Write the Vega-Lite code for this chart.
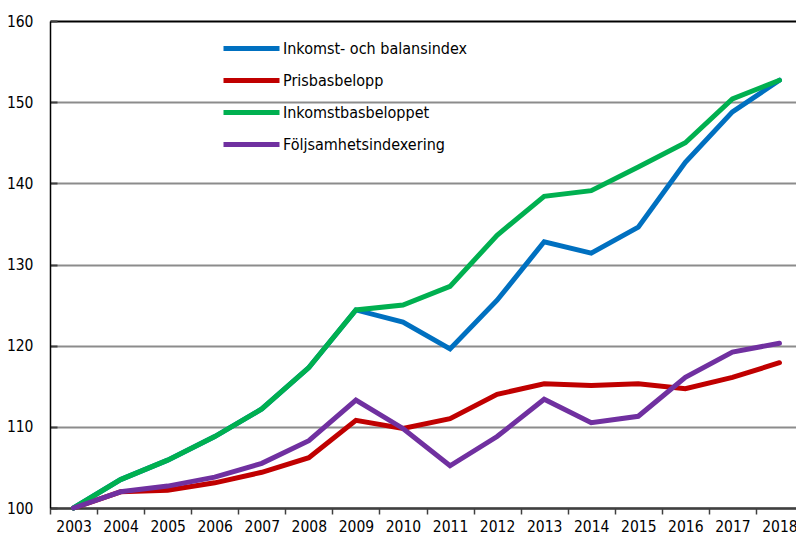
{
  "$schema": "https://vega.github.io/schema/vega-lite/v6.json",
  "autosize": "none",
  "padding": {"left": 50, "top": 21, "right": 0, "bottom": 31},
  "width": 746,
  "height": 487,
  "background": "white",
  "config": {
    "font": "Liberation Sans Narrow, Arial Narrow, DejaVu Sans Condensed, sans-serif",
    "view": {"stroke": null}
  },
  "data": {
    "values": [
      {"year": "2003", "series": "Inkomst- och balansindex", "value": 100},
      {"year": "2004", "series": "Inkomst- och balansindex", "value": 103.5},
      {"year": "2005", "series": "Inkomst- och balansindex", "value": 105.9},
      {"year": "2006", "series": "Inkomst- och balansindex", "value": 108.8},
      {"year": "2007", "series": "Inkomst- och balansindex", "value": 112.2},
      {"year": "2008", "series": "Inkomst- och balansindex", "value": 117.3},
      {"year": "2009", "series": "Inkomst- och balansindex", "value": 124.4},
      {"year": "2010", "series": "Inkomst- och balansindex", "value": 122.9},
      {"year": "2011", "series": "Inkomst- och balansindex", "value": 119.6},
      {"year": "2012", "series": "Inkomst- och balansindex", "value": 125.6},
      {"year": "2013", "series": "Inkomst- och balansindex", "value": 132.8},
      {"year": "2014", "series": "Inkomst- och balansindex", "value": 131.4},
      {"year": "2015", "series": "Inkomst- och balansindex", "value": 134.6},
      {"year": "2016", "series": "Inkomst- och balansindex", "value": 142.6},
      {"year": "2017", "series": "Inkomst- och balansindex", "value": 148.8},
      {"year": "2018", "series": "Inkomst- och balansindex", "value": 152.7},
      {"year": "2003", "series": "Prisbasbelopp", "value": 100},
      {"year": "2004", "series": "Prisbasbelopp", "value": 102.0},
      {"year": "2005", "series": "Prisbasbelopp", "value": 102.2},
      {"year": "2006", "series": "Prisbasbelopp", "value": 103.1},
      {"year": "2007", "series": "Prisbasbelopp", "value": 104.4},
      {"year": "2008", "series": "Prisbasbelopp", "value": 106.2},
      {"year": "2009", "series": "Prisbasbelopp", "value": 110.8},
      {"year": "2010", "series": "Prisbasbelopp", "value": 109.8},
      {"year": "2011", "series": "Prisbasbelopp", "value": 111.0},
      {"year": "2012", "series": "Prisbasbelopp", "value": 114.0},
      {"year": "2013", "series": "Prisbasbelopp", "value": 115.3},
      {"year": "2014", "series": "Prisbasbelopp", "value": 115.1},
      {"year": "2015", "series": "Prisbasbelopp", "value": 115.3},
      {"year": "2016", "series": "Prisbasbelopp", "value": 114.7},
      {"year": "2017", "series": "Prisbasbelopp", "value": 116.1},
      {"year": "2018", "series": "Prisbasbelopp", "value": 117.9},
      {"year": "2003", "series": "Inkomstbasbeloppet", "value": 100},
      {"year": "2004", "series": "Inkomstbasbeloppet", "value": 103.5},
      {"year": "2005", "series": "Inkomstbasbeloppet", "value": 105.9},
      {"year": "2006", "series": "Inkomstbasbeloppet", "value": 108.8},
      {"year": "2007", "series": "Inkomstbasbeloppet", "value": 112.2},
      {"year": "2008", "series": "Inkomstbasbeloppet", "value": 117.3},
      {"year": "2009", "series": "Inkomstbasbeloppet", "value": 124.4},
      {"year": "2010", "series": "Inkomstbasbeloppet", "value": 125.0},
      {"year": "2011", "series": "Inkomstbasbeloppet", "value": 127.3},
      {"year": "2012", "series": "Inkomstbasbeloppet", "value": 133.6},
      {"year": "2013", "series": "Inkomstbasbeloppet", "value": 138.4},
      {"year": "2014", "series": "Inkomstbasbeloppet", "value": 139.1},
      {"year": "2015", "series": "Inkomstbasbeloppet", "value": 142.0},
      {"year": "2016", "series": "Inkomstbasbeloppet", "value": 145.0},
      {"year": "2017", "series": "Inkomstbasbeloppet", "value": 150.4},
      {"year": "2018", "series": "Inkomstbasbeloppet", "value": 152.7},
      {"year": "2003", "series": "Följsamhetsindexering", "value": 100},
      {"year": "2004", "series": "Följsamhetsindexering", "value": 102.0},
      {"year": "2005", "series": "Följsamhetsindexering", "value": 102.7},
      {"year": "2006", "series": "Följsamhetsindexering", "value": 103.8},
      {"year": "2007", "series": "Följsamhetsindexering", "value": 105.5},
      {"year": "2008", "series": "Följsamhetsindexering", "value": 108.3},
      {"year": "2009", "series": "Följsamhetsindexering", "value": 113.3},
      {"year": "2010", "series": "Följsamhetsindexering", "value": 109.8},
      {"year": "2011", "series": "Följsamhetsindexering", "value": 105.2},
      {"year": "2012", "series": "Följsamhetsindexering", "value": 108.8},
      {"year": "2013", "series": "Följsamhetsindexering", "value": 113.4},
      {"year": "2014", "series": "Följsamhetsindexering", "value": 110.5},
      {"year": "2015", "series": "Följsamhetsindexering", "value": 111.3},
      {"year": "2016", "series": "Följsamhetsindexering", "value": 116.1},
      {"year": "2017", "series": "Följsamhetsindexering", "value": 119.2},
      {"year": "2018", "series": "Följsamhetsindexering", "value": 120.3}
    ]
  },
  "mark": {"type": "line", "strokeWidth": 5, "strokeJoin": "miter", "strokeCap": "round"},
  "encoding": {
    "x": {
      "field": "year",
      "type": "ordinal",
      "scale": {"type": "band", "range": [0, 753], "paddingInner": 0, "paddingOuter": 0},
      "axis": {
        "title": null,
        "labelAngle": 0,
        "labelFontSize": 15.5,
        "labelColor": "black",
        "labelPadding": 5,
        "tickBand": "extent",
        "tickSize": 6,
        "tickColor": "#404040",
        "tickWidth": 1.5,
        "domainColor": "#404040",
        "domainWidth": 2.5,
        "grid": false
      }
    },
    "y": {
      "field": "value",
      "type": "quantitative",
      "scale": {"domain": [100, 160], "nice": false, "zero": false},
      "axis": {
        "title": null,
        "values": [100, 110, 120, 130, 140, 150, 160],
        "labelFontSize": 15.5,
        "labelColor": "black",
        "labelPadding": 24,
        "tickSize": -7,
        "tickColor": "#404040",
        "tickWidth": 2,
        "domainColor": "black",
        "domainWidth": 1.5,
        "grid": true,
        "gridColor": {"condition": {"test": "datum.value == 160", "value": "black"}, "value": "#8c8c8c"},
        "gridWidth": 2
      }
    },
    "color": {
      "field": "series",
      "type": "nominal",
      "scale": {
        "domain": ["Inkomst- och balansindex", "Prisbasbelopp", "Inkomstbasbeloppet", "Följsamhetsindexering"],
        "range": ["#0070c0", "#c00000", "#00b050", "#7030a0"]
      },
      "legend": {
        "title": null,
        "orient": "none",
        "legendX": 185,
        "legendY": 11,
        "symbolType": "M-2,0H2",
        "symbolSize": 784,
        "symbolStrokeWidth": 5,
        "labelFontSize": 16,
        "labelColor": "black",
        "labelOffset": 15,
        "labelLimit": 0,
        "rowPadding": 5
      }
    }
  }
}
